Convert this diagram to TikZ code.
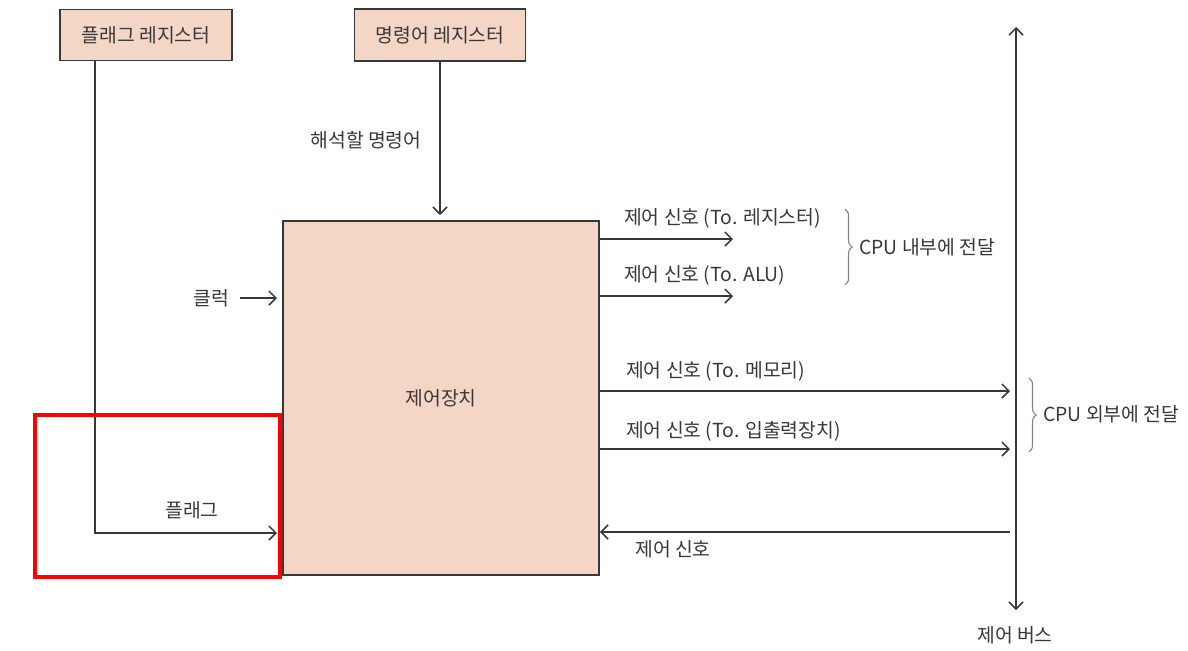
\documentclass[tikz,border=0pt]{standalone}
\usepackage{fontspec}
\setmainfont{Noto Sans CJK KR}
\usetikzlibrary{arrows.meta,decorations.pathreplacing}
\definecolor{peach}{HTML}{F4D6C7}
\definecolor{ink}{HTML}{383838}
\begin{document}
\begin{tikzpicture}[x=0.02cm, y=-0.02cm, >={Straight Barb[length=4pt,width=8pt]},
	every node/.style={font=\fontsize{11}{13}\selectfont, text=ink},
	reg/.style={draw=ink, line width=1.1pt, fill=peach, inner sep=0pt},
	sig/.style={draw=ink, line width=0.9pt, ->},
	grp/.style={draw=gray, line width=0.6pt, decorate, decoration={brace, amplitude=4pt}}]
	\useasboundingbox (0,0) rectangle (1188,650);
	\node[reg, minimum width=3.44cm, minimum height=1.02cm] (flagreg) at (146,35) {플래그 레지스터};
	\node[reg, minimum width=3.42cm, minimum height=1.04cm] (instreg) at (440,35) {명령어 레지스터};
	\node[reg, minimum width=6.32cm, minimum height=7.08cm] (cu) at (441,398) {제어장치};
	\coordinate (flagx) at (95,533);
	\coordinate (flagin) at (277,533);
	\coordinate (clkout) at (240,298);
	\coordinate (clkin) at (277,298);
	\coordinate (instin) at (440,215);
	\coordinate (toreg) at (733,239);
	\coordinate (toalu) at (733,296);
	\coordinate (tomem) at (1010,391);
	\coordinate (toio) at (1010,449);
	\coordinate (busin) at (1010,532);
	\coordinate (bustop) at (1016,27);
	\coordinate (busbot) at (1016,610);
	\draw[sig] (flagreg.south -| flagx) -- (flagx) -- (flagin);
	\draw[sig] (instreg.south) -- (instin);
	\draw[sig] (clkout) -- (clkin);
	\draw[sig] (cu.east |- toreg) -- (toreg);
	\draw[sig] (cu.east |- toalu) -- (toalu);
	\draw[sig] (cu.east |- tomem) -- (tomem);
	\draw[sig] (cu.east |- toio) -- (toio);
	\draw[sig] (busin) -- (cu.east |- busin);
	\draw[sig, <->] (bustop) -- (busbot);
	\node (flaglbl) at (192,510) {플래그};
	\node (instlbl) at (366,140) {해석할 명령어};
	\node (clklbl) at (211,298) {클럭};
	\node[anchor=west] (reglbl) at (618,218) {제어 신호 (To. 레지스터)};
	\node[anchor=west] (alulbl) at (618,275) {제어 신호 (To. ALU)};
	\node[anchor=west] (memlbl) at (620,371) {제어 신호 (To. 메모리)};
	\node[anchor=west] (iolbl) at (620,431) {제어 신호 (To. 입출력장치)};
	\node (inlbl) at (673,549) {제어 신호};
	\node (buslbl) at (1015,635) {제어 버스};
	\draw[grp] (845,209) -- (845,285);
	\node[anchor=west] (inner) at (853,247) {CPU 내부에 전달};
	\draw[grp] (1029,378) -- (1029,452);
	\node[anchor=west] (outer) at (1037,414) {CPU 외부에 전달};
	\draw[red, line width=2.8pt] (35,415) rectangle (280,577);
\end{tikzpicture}
\end{document}
